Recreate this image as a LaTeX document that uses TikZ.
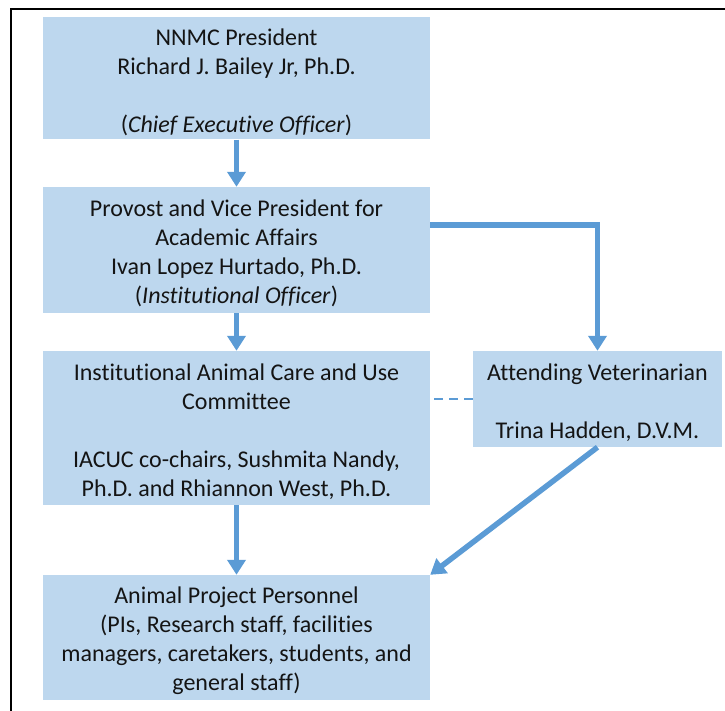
\documentclass[tikz,border=0pt]{standalone}
\usepackage{fontspec}
\setmainfont[Ligatures=NoCommon]{Carlito}
\usetikzlibrary{arrows.meta}
\definecolor{boxfill}{HTML}{BDD7EE}
\definecolor{arrowblue}{HTML}{5B9BD5}
\definecolor{txt}{HTML}{141414}
\begin{document}
\begin{tikzpicture}[x=1pt,y=-1pt,
  boxtext/.style={inner sep=0pt, align=center, text=txt, yshift=-3.5pt,
    font=\fontsize{24}{29}\selectfont},
  orgbox/.style={fill=boxfill, draw=none, inner sep=0pt, label={[boxtext]center:{#1}}},
  mainbox/.style={orgbox={#1}, minimum width=387pt},
  flow/.style={draw=arrowblue, line width=5.5pt, -{Triangle[width=18pt,length=15pt]}},
  link/.style={draw=arrowblue, line width=1.6pt, dash pattern=on 9pt off 6pt}]
\useasboundingbox (0,0) rectangle (725,711);
\draw[line width=2pt] (11,711) -- (11,9) -- (725,9);
\node[mainbox={NNMC President\\Richard J. Bailey Jr, Ph.D.\\[29pt](\textit{Chief Executive Officer})},
  minimum height=122pt] (pres) at (236.5,78.5) {};
\node[mainbox={Provost and Vice President for\\Academic Affairs\\Ivan Lopez Hurtado, Ph.D.\\(\textit{Institutional Officer})},
  minimum height=126pt] (prov) at (236.5,250) {};
\node[mainbox={Institutional Animal Care and Use\\Committee\\[29pt]IACUC co-chairs, Sushmita Nandy,\\Ph.D. and Rhiannon West, Ph.D.},
  minimum height=154pt] (iacuc) at (236.5,428) {};
\node[orgbox={Attending Veterinarian\\[29pt]Trina Hadden, D.V.M.},
  minimum width=249pt, minimum height=96pt] (vet) at (597.5,399) {};
\node[mainbox={Animal Project Personnel\\(PIs, Research staff, facilities\\managers, caretakers, students, and\\general staff)},
  minimum height=125pt] (staff) at (236.5,637.5) {};
\draw[flow] (pres.south) -- (prov.north);
\draw[flow] (prov.south) -- (iacuc.north);
\draw[flow] (iacuc.south) -- (staff.north);
\draw[flow] ([yshift=25pt]prov.east) -| (vet.north);
\draw[link] (vet.west) -- (iacuc.east |- vet.west);
\draw[flow] (vet.south) -- (staff.north east);
\end{tikzpicture}
\end{document}
